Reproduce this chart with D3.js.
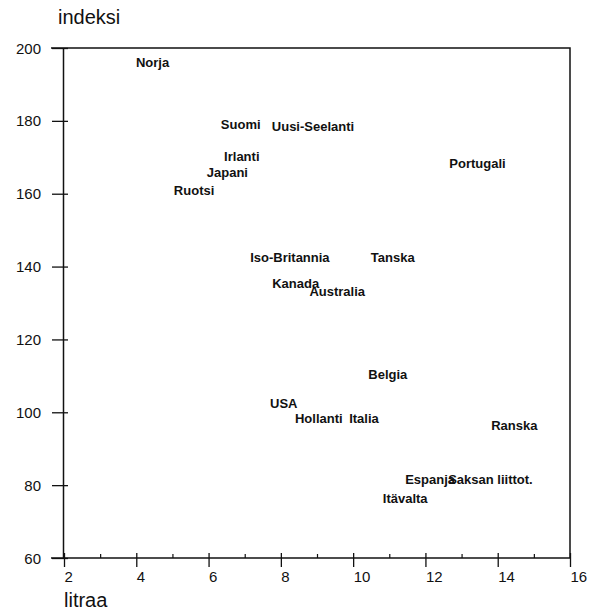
<!DOCTYPE html>
<html>
<head>
<meta charset="utf-8">
<script src="https://cdn.jsdelivr.net/npm/d3@7"></script>
<style>
  body { margin: 0; background: #fff; }
  svg { display: block; font-family: "Liberation Sans", Arial, sans-serif; }
  .country { font-size: 13px; font-weight: bold; fill: #111; }
  .tick text { font-size: 15px; fill: #111; }
  .axis-title { font-size: 20px; fill: #111; }
</style>
</head>
<body>
<div id="chart"></div>
<script>
// Scatter of countries: litraa (x) vs indeksi (y), labels drawn as the marks

const countries = ['Norja', 'Suomi', 'Uusi-Seelanti', 'Irlanti', 'Japani', 'Ruotsi',
    'Portugali', 'Iso-Britannia', 'Tanska', 'Kanada', 'Australia', 'Belgia',
    'USA', 'Hollanti', 'Italia', 'Ranska', 'Espanja', 'Saksan liittot.', 'Itävalta'];
const litres = [3.99, 6.34, 7.75, 6.43, 5.95, 5.04,
    12.66, 7.15, 10.49, 7.76, 8.79, 10.42,
    7.70, 8.39, 9.89, 13.82, 11.44, 12.63, 10.82];
const indexValues = [195.9, 179.1, 178.4, 170.3, 165.8, 160.8,
    168.3, 142.5, 142.5, 135.4, 133.3, 110.5,
    102.5, 98.2, 98.2, 96.5, 81.7, 81.7, 76.4];

const xTicks = [2, 4, 6, 8, 10, 12, 14, 16];
const xMinorTicks = [3, 5, 7, 9, 11, 13, 15];
const yTicks = [60, 80, 100, 120, 140, 160, 180, 200];

const width = 601, height = 613;
const plot = { left: 63, right: 570, top: 48, bottom: 558 };

const svg = d3.select('#chart')
    .append('svg')
    .attr('width', width)
    .attr('height', height);

const x = d3.scaleLinear().domain([2, 16]).range([plot.left + 1, plot.right]);
const y = d3.scaleLinear().domain([60, 200]).range([plot.bottom, plot.top]);

// frame on top and right
svg.append('path')
    .attr('d', `M${plot.left - 12},${plot.top}H${plot.right}V${plot.bottom}`)
    .attr('fill', 'none')
    .attr('stroke', '#111')
    .attr('stroke-width', 1.5);

// y axis, ticks cross the line
const yAxis = svg.append('g')
    .attr('transform', `translate(${plot.left},0)`)
    .call(d3.axisLeft(y).tickValues(yTicks).tickSize(11).tickSizeOuter(0).tickPadding(11));
yAxis.select('.domain').attr('stroke', '#111').attr('stroke-width', 1.5);
yAxis.selectAll('.tick line').attr('x1', 5).attr('stroke', '#111').attr('stroke-width', 1.3);
yAxis.selectAll('.tick text').attr('dy', '0.34em');

// x axis, major ticks
const xAxis = svg.append('g')
    .attr('transform', `translate(0,${plot.bottom})`)
    .call(d3.axisBottom(x).tickValues(xTicks).tickSize(9).tickSizeOuter(0));
xAxis.select('.domain')
    .attr('d', `M${plot.left - 12},0H${plot.right}`)
    .attr('stroke', '#111').attr('stroke-width', 1.5);
xAxis.selectAll('.tick line').attr('y1', -5).attr('stroke', '#111').attr('stroke-width', 1.3);
xAxis.selectAll('.tick text')
    .attr('text-anchor', 'start')
    .attr('x', 0)
    .attr('y', 24)
    .attr('dy', null);

// x axis, minor ticks pointing up
const xMinor = svg.append('g')
    .attr('transform', `translate(0,${plot.bottom})`)
    .call(d3.axisBottom(x).tickValues(xMinorTicks).tickSize(-4).tickFormat(''));
xMinor.select('.domain').remove();
xMinor.selectAll('.tick line').attr('stroke', '#111').attr('stroke-width', 1.2);

// axis titles
svg.append('text')
    .attr('class', 'axis-title')
    .attr('x', 58)
    .attr('y', 24)
    .text('indeksi');

svg.append('text')
    .attr('class', 'axis-title')
    .attr('x', 64)
    .attr('y', 607)
    .text('litraa');

// country labels
svg.selectAll('.country')
    .data(countries)
    .enter()
    .append('text')
    .attr('class', 'country')
    .attr('x', (d, i) => x(litres[i]))
    .attr('y', (d, i) => y(indexValues[i]))
    .attr('dy', '0.35em')
    .text(d => d);
</script>
</body>
</html>
